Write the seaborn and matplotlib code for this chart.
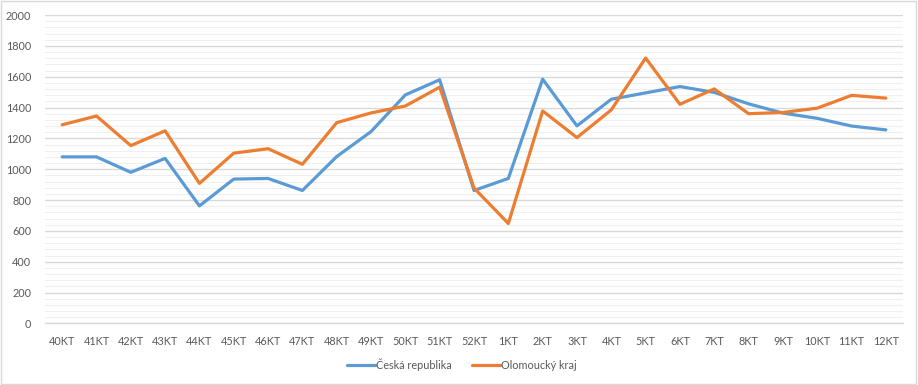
import seaborn as sns
import matplotlib.pyplot as plt
import matplotlib.patches as mpatches
import pandas as pd
import numpy as np

# data
tydny = ["40KT", "41KT", "42KT", "43KT", "44KT", "45KT", "46KT", "47KT", "48KT",
         "49KT", "50KT", "51KT", "52KT", "1KT", "2KT", "3KT", "4KT", "5KT", "6KT",
         "7KT", "8KT", "9KT", "10KT", "11KT", "12KT"]
cr = [1080, 1080, 980, 1070, 762, 936, 940, 862, 1082, 1244, 1482, 1580, 862,
      940, 1584, 1281, 1454, 1495, 1536, 1498, 1424, 1364, 1330, 1280, 1255]
olk = [1288, 1345, 1153, 1249, 908, 1104, 1133, 1032, 1302, 1365, 1410, 1532, 878,
       648, 1378, 1205, 1385, 1721, 1421, 1521, 1360, 1368, 1396, 1479, 1461]

df = pd.DataFrame({
    "Týden": tydny * 2,
    "Počet": cr + olk,
    "Oblast": ["Česká republika"] * len(tydny) + ["Olomoucký kraj"] * len(tydny),
})

sns.set_style("white")
plt.rcParams["font.family"] = ["Lato", "DejaVu Sans"]

fig = plt.figure(figsize=(9.18, 3.85), dpi=100)
ax = fig.add_axes([0.049, 0.160, 0.9347, 0.801])

sns.lineplot(data=df, x="Týden", y="Počet", hue="Oblast", sort=False, ax=ax,
             palette=["#5B9BD5", "#ED7D31"], linewidth=2.3, legend=False, zorder=3)

ax.set_xlim(-0.5, len(tydny) - 0.5)
ax.set_ylim(0, 2000)
ax.set_yticks(np.arange(0, 2001, 200))
ax.set_yticks(np.arange(0, 2001, 40), minor=True)
ax.grid(axis="y", which="major", color="#D9D9D9", linewidth=1.0, zorder=0)
ax.grid(axis="y", which="minor", color="#EFEFEF", linewidth=0.8, zorder=0)
ax.grid(axis="x", visible=False)
for s in ["top", "right", "left"]:
    ax.spines[s].set_visible(False)
ax.spines["bottom"].set_color("#D9D9D9")
ax.spines["bottom"].set_linewidth(1.0)
ax.tick_params(axis="both", which="both", length=0, labelsize=7.8, colors="#595959")
ax.tick_params(axis="y", pad=10)
ax.tick_params(axis="x", pad=9)
ax.set_xlabel("")
ax.set_ylabel("")

handles = [plt.Line2D([], [], color="#5B9BD5", lw=2.3),
           plt.Line2D([], [], color="#ED7D31", lw=2.3)]
fig.legend(handles, ["Česká republika", "Olomoucký kraj"], loc="center",
           bbox_to_anchor=(0.503, 0.052), ncol=2, frameon=False, fontsize=7.8,
           handlelength=2.6, handletextpad=0.1, columnspacing=1.8, labelcolor="#595959")

fig.patches.append(mpatches.Rectangle((0.001, 0.002), 0.997, 0.995, transform=fig.transFigure,
                                      fill=False, edgecolor="#D9D9D9", linewidth=1.0))

plt.savefig("out.png", dpi=100)
plt.close()
